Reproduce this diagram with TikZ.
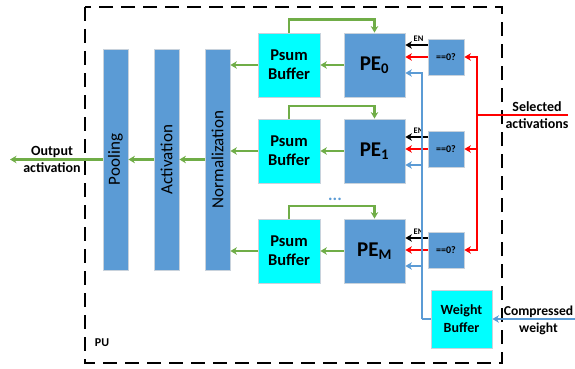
\documentclass[tikz,border=0pt]{standalone}
\usepackage{fontspec}
\setmainfont{Carlito}
\usetikzlibrary{arrows.meta,calc}
\definecolor{boxblue}{HTML}{5B9BD5}
\definecolor{grn}{HTML}{70AD47}
\definecolor{bline}{HTML}{5B9BD5}
\definecolor{edgec}{HTML}{C8D2DC}
\definecolor{cyn}{RGB}{0,255,255}
\begin{document}
\begin{tikzpicture}[x=1pt,y=-1pt,
  blk/.style={draw=edgec, line width=0.8pt, fill=boxblue, inner sep=0pt, anchor=center},
  bar/.style={blk, minimum width=25pt, minimum height=221pt},
  bartext/.style={rotate=90, font=\fontsize{17}{17}\selectfont},
  psum/.style={blk, fill=cyn, minimum width=62pt, minimum height=64pt, align=center, font=\bfseries\fontsize{16.5}{19}\selectfont},
  pe/.style={blk, minimum width=61pt, minimum height=64pt, font=\bfseries\fontsize{21}{21}\selectfont},
  cmp/.style={blk, minimum width=36pt, minimum height=36pt, font=\bfseries\fontsize{10}{10}\selectfont},
  wbuf/.style={blk, fill=cyn, minimum width=61pt, minimum height=58pt, align=center, font=\bfseries\fontsize{14}{18}\selectfont},
  lab/.style={align=center, font=\bfseries\fontsize{14}{17}\selectfont, inner sep=0pt},
  tip/.style={-{Stealth[length=6.5pt,width=7.5pt]}},
  gline/.style={draw=grn, line width=2.2pt},
  rline/.style={draw=red, line width=2.2pt},
  bwire/.style={draw=bline, line width=2.2pt},
  kline/.style={draw=black, line width=2.2pt},
  enlab/.style={font=\bfseries\fontsize{8.5}{8.5}\selectfont, inner sep=0pt}
]
\useasboundingbox (0,0) rectangle (575,369);
% PU border
\draw[line width=2.5pt, dash pattern=on 14pt off 8pt] (85,7) rectangle (502,363);
\node[font=\bfseries\fontsize{12}{12}\selectfont] (pu) at (102,343) {PU};

% bars
\node[bar] (pool) at (115.5,159.5) {};
\node[bartext] at (pool.center) {Pooling};
\node[bar] (act) at (166.5,159.5) {};
\node[bartext] at (act.center) {Activation};
\node[bar] (norm) at (217.5,159.5) {};
\node[bartext] at (norm.center) {Normalization};

% rows
\node[psum] (ps0) at (289,65) {Psum\\Buffer};
\node[psum] (ps1) at (289,151) {Psum\\Buffer};
\node[psum] (psM) at (289,251) {Psum\\Buffer};
\node[pe] (pe0) at (374.5,65) {PE\textsubscript{0}};
\node[pe] (pe1) at (374.5,151) {PE\textsubscript{1}};
\node[pe] (peM) at (374.5,251) {PE\textsubscript{M}};
\node[cmp] (cmp0) at (446,57) {==0?};
\node[cmp] (cmp1) at (446,149) {==0?};
\node[cmp] (cmpM) at (446,250) {==0?};
\node[wbuf] (wb) at (461.5,319) {Weight\\Buffer};
\node[text=boxblue, font=\bfseries\fontsize{17}{17}\selectfont] (dots) at (335,199) {...};

% outer labels
\node[lab] (outl) at (52,159.5) {Output\\activation};
\node[lab] (sell) at (537,115) {Selected\\activations};
\node[lab, font=\bfseries\fontsize{13.6}{17}\selectfont] (cwl) at (538.5,320) {Compressed\\weight};

% green data path
\coordinate (outp) at (10,159.5);
\draw[gline,tip] (pool.west) -- (outp);
\draw[gline,tip] (act.west) -- (pool.east);
\draw[gline,tip] (norm.west) -- (act.east);
\foreach \r in {0,1,M}{
  \draw[gline,tip] (pe\r.west) -- (ps\r.east);
  \draw[gline,tip] (ps\r.west) -- (ps\r.west -| norm.east);
  \draw[gline,tip] (ps\r.north) -- ++(0,-13) -| (pe\r.north);
}

% compare units
\foreach \r in {0,1,M}{
  \draw[rline,tip] (cmp\r.west) -- (cmp\r.west -| pe\r.east);
  \draw[kline,tip] ($(cmp\r.west)+(0,-12)$) -- ($(cmp\r.west -| pe\r.east)+(0,-12)$);
  \node[enlab] at ($(cmp\r.west)+(-9,-18)$) {EN};
}

% selected activations (red)
\coordinate (sel) at (568,115);
\coordinate (rj) at (477,115);
\draw[rline] (sel) -- (rj);
\foreach \r in {0,1,M}{
  \draw[rline,tip] (rj) |- (cmp\r.east);
}

% weights (blue)
\coordinate (cw) at (575,319);
\coordinate (bj) at (422,319);
\draw[bwire,tip] (cw) -- (wb.east);
\draw[bwire] (wb.west) -- (bj);
\foreach \r in {0,1,M}{
  \draw[bwire,tip] (bj) |- ($(cmp\r.west -| pe\r.east)+(0,16)$);
}
\end{tikzpicture}
\end{document}
